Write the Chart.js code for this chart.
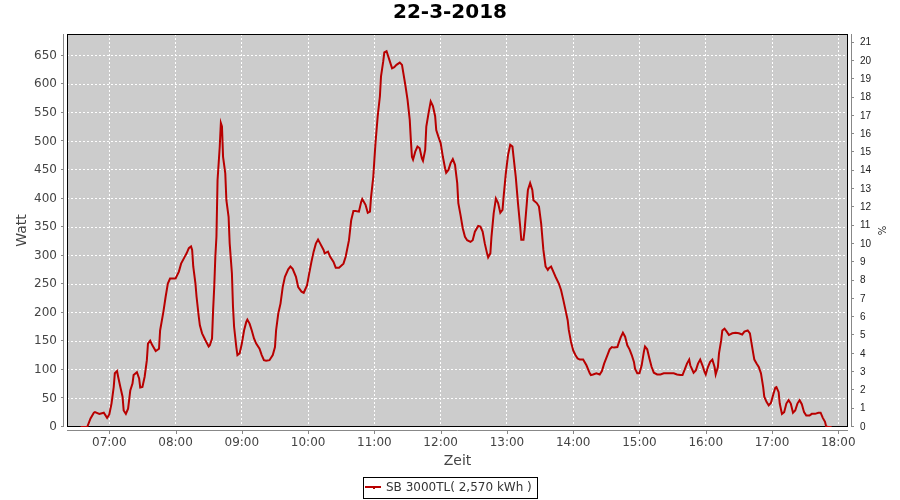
<!doctype html>
<html lang="de">
  <head>
    <meta charset="utf-8">
    <title>22-3-2018</title>
    <style>
      body { margin: 0; background: #fff; }
    </style>
  </head>
  <body>
    <canvas id="myChart" width="900" height="500"></canvas>

    <script src="https://cdn.jsdelivr.net/npm/chart.js"></script>
    <script>
        var chartTitle = '22-3-2018';
        var seriesLabel = 'SB 3000TL( 2,570 kWh )';
        var hourTicks = ['07:00','08:00','09:00','10:00','11:00','12:00','13:00','14:00','15:00','16:00','17:00','18:00'];

        // readings (time of day, watt)
        var times = [
            '06:34','06:40','06:43','06:46','06:47','06:51','06:55','06:58','07:00','07:02','07:04','07:05','07:07','07:08','07:10','07:12','07:13','07:15','07:17','07:19',
            '07:21','07:22','07:25','07:27','07:28','07:30','07:32','07:34','07:35','07:37','07:39','07:42','07:45','07:46','07:49','07:51','07:53','07:55','07:58','08:00',
            '08:03','08:05','08:08','08:10','08:12','08:14','08:15','08:16','08:18','08:19','08:21','08:22','08:24','08:27','08:30','08:31','08:33','08:34','08:35','08:36',
            '08:37','08:38','08:40','08:41','08:42','08:43','08:45','08:46','08:48','08:49','08:51','08:52','08:53','08:55','08:56','08:58','09:00','09:02','09:04','09:05',
            '09:07','09:09','09:11','09:13','09:16','09:18','09:20','09:22','09:25','09:28','09:30','09:31','09:33','09:35','09:37','09:39','09:42','09:44','09:46','09:49',
            '09:51','09:54','09:56','09:59','10:01','10:03','10:05','10:07','10:09','10:11','10:14','10:15','10:18','10:20','10:23','10:25','10:28',
            '10:32','10:34','10:37','10:39','10:41','10:43','10:46','10:48','10:49','10:52','10:54','10:56','10:57','10:59','11:00','11:01','11:03','11:05','11:06','11:08',
            '11:09','11:11','11:12','11:14','11:16','11:18','11:20','11:23','11:25','11:26','11:28','11:30','11:32','11:33','11:34','11:35','11:37','11:39','11:41','11:43',
            '11:44','11:46','11:47','11:49','11:51','11:53','11:55','11:56','11:58','12:00','12:02','12:04','12:05','12:07','12:09','12:11','12:13','12:15','12:16','12:18',
            '12:20','12:22','12:24','12:27','12:29','12:31','12:34','12:36','12:38','12:40','12:42','12:43','12:45','12:46','12:48','12:50','12:52','12:54','12:56','12:57',
            '12:59','13:01','13:03','13:05','13:06','13:08','13:10','13:12','13:13','13:15','13:16','13:18','13:19','13:21','13:23','13:24','13:27','13:29','13:31','13:33',
            '13:35','13:37','13:38','13:40','13:42','13:44','13:47','13:49','13:51','13:53','13:55','13:56','13:58','14:00','14:02','14:04','14:06','14:09','14:12','14:15',
            '14:16','14:18','14:21','14:24','14:26','14:28','14:31','14:33','14:35','14:37','14:40','14:41','14:43','14:45','14:47','14:49','14:51','14:53','14:55','14:56',
            '14:58','15:00','15:02','15:04','15:05','15:07','15:09','15:11','15:13','15:16','15:19','15:22','15:25','15:28','15:31','15:34','15:37','15:39','15:41','15:43',
            '15:45','15:46','15:49','15:51','15:53','15:55','15:57','15:59','16:00','16:02','16:04','16:06','16:08','16:09','16:11','16:12','16:14','16:15','16:17','16:19',
            '16:21','16:24','16:27','16:30','16:33','16:35','16:38','16:40','16:41','16:43','16:44','16:46','16:48','16:50','16:52','16:53','16:55','16:57','16:59','17:01',
            '17:03','17:04','17:06','17:07','17:09','17:11','17:13','17:15','17:17','17:19','17:21','17:23','17:25','17:27','17:29','17:31','17:34','17:36','17:39','17:42',
            '17:44','17:46','17:48','17:49','17:51','17:54'
        ];
        var watts = [
            0,0,15,25,26,23,25,16,22,41,70,94,98,88,70,53,29,23,32,64,
            76,91,96,85,69,70,88,117,146,151,143,133,137,169,202,228,251,260,260,260,
            272,286,297,304,313,316,310,281,251,228,193,178,164,152,141,143,155,205,245,298,
            333,432,491,532,526,473,444,397,368,321,269,210,175,140,126,129,146,169,184,188,
            181,169,155,146,137,126,117,116,117,126,140,169,199,216,245,263,276,281,277,263,
            245,237,235,248,269,289,307,321,328,321,310,304,307,298,289,279,279,
            286,298,327,362,378,378,377,394,399,389,375,377,403,438,468,497,544,579,614,640,
            656,658,652,640,628,630,634,638,634,622,599,573,538,503,473,468,482,491,488,470,
            466,485,526,549,570,562,544,520,508,497,473,453,445,450,462,469,459,427,392,371,
            348,333,327,324,327,342,352,351,342,321,304,297,304,333,374,400,392,375,380,403,
            444,476,494,491,473,438,392,351,328,328,345,392,415,427,415,397,392,386,356,310,
            281,275,278,281,272,263,251,240,223,205,187,170,149,134,126,120,118,118,108,94,
            91,92,94,92,98,111,126,136,140,139,140,146,157,165,158,143,136,126,114,102,
            94,94,108,132,141,136,120,105,95,92,92,94,94,94,94,92,91,91,101,111,
            118,108,95,99,111,118,108,96,92,105,114,118,105,92,105,129,152,169,172,167,
            161,164,165,164,162,167,169,164,152,129,118,111,105,94,70,53,44,38,42,56,
            69,70,61,41,23,26,41,47,41,25,29,41,47,40,26,20,20,23,23,25,
            25,16,9,1,0,0
        ];

        function toMin(t) {
            var p = t.split(':');
            return parseInt(p[0]) * 60 + parseInt(p[1]);
        }
        function toTime(v) {
            var h = Math.floor(v / 60), m = Math.round(v % 60);
            return (h < 10 ? '0' : '') + h + ':' + (m < 10 ? '0' : '') + m;
        }

        var points = times.map(function(t, i) { return {x: toMin(t), y: watts[i]}; });

        var plotFrame = {
            id: 'plotFrame',
            beforeDraw: function(chart) {
                var a = chart.chartArea, ctx = chart.ctx;
                ctx.save();
                ctx.fillStyle = '#cccccc';
                ctx.fillRect(a.left, a.top, a.right - a.left, a.bottom - a.top);
                ctx.restore();
            },
            beforeDatasetsDraw: function(chart) {
                var a = chart.chartArea, ctx = chart.ctx;
                ctx.save();
                ctx.strokeStyle = '#000';
                ctx.lineWidth = 1;
                ctx.strokeRect(a.left + 0.5, a.top + 0.5, a.right - a.left - 1, a.bottom - a.top - 1);
                ctx.restore();
            },
            afterDraw: function(chart) {
                var a = chart.chartArea, ctx = chart.ctx;
                var sx = chart.scales.x, sy = chart.scales.y, sy1 = chart.scales.y1;
                ctx.save();
                ctx.strokeStyle = '#888';
                ctx.lineWidth = 1;
                ctx.beginPath();
                // left axis
                ctx.moveTo(a.left - 3.5, a.top); ctx.lineTo(a.left - 3.5, a.bottom);
                sy.ticks.forEach(function(t) {
                    var y = Math.round(sy.getPixelForValue(t.value)) - 0.5;
                    ctx.moveTo(a.left - 6, y); ctx.lineTo(a.left - 3.5, y);
                });
                // right axis
                ctx.moveTo(a.right + 3.5, a.top); ctx.lineTo(a.right + 3.5, a.bottom);
                sy1.ticks.forEach(function(t) {
                    var y = Math.round(sy1.getPixelForValue(t.value)) - 0.5;
                    ctx.moveTo(a.right + 3.5, y); ctx.lineTo(a.right + 6, y);
                });
                // bottom axis
                ctx.moveTo(a.left, a.bottom + 3.5); ctx.lineTo(a.right, a.bottom + 3.5);
                sx.ticks.forEach(function(t) {
                    var x = Math.round(sx.getPixelForValue(t.value)) + 0.5;
                    ctx.moveTo(x, a.bottom + 3.5); ctx.lineTo(x, a.bottom + 7);
                });
                ctx.stroke();

                // legend box
                var ds = chart.data.datasets[0];
                ctx.font = '12px "DejaVu Sans"';
                var tw = ctx.measureText(ds.label).width;
                var bw = tw + 28, bx = Math.round(450 - bw / 2), by = 477;
                ctx.strokeStyle = '#000';
                ctx.strokeRect(bx + 0.5, by + 0.5, Math.round(bw), 21);
                ctx.strokeStyle = ds.borderColor;
                ctx.lineWidth = 2;
                ctx.beginPath();
                ctx.moveTo(bx + 2, by + 10); ctx.lineTo(bx + 18, by + 10);
                ctx.stroke();
                ctx.fillStyle = ds.borderColor;
                ctx.fillRect(bx + 10, by + 10, 2, 2);
                ctx.fillStyle = '#333';
                ctx.textBaseline = 'middle';
                ctx.fillText(ds.label, bx + 23, by + 11);
                ctx.restore();
            }
        };

        var axisFont = {family: 'DejaVu Sans', size: 12};
        var ctx = document.getElementById('myChart');
        new Chart(ctx, {
            type: 'line',
            data: {
                datasets: [{
                    label: seriesLabel,
                    data: points,
                    borderColor: '#b80000',
                    borderWidth: 2,
                    pointRadius: 0,
                    tension: 0,
                    fill: false,
                    yAxisID: 'y'
                }]
            },
            options: {
                responsive: false,
                animation: false,
                layout: {padding: {bottom: 28}},
                plugins: {
                    legend: {display: false},
                    tooltip: {enabled: false},
                    title: {
                        display: true,
                        text: chartTitle,
                        color: '#000',
                        font: {family: 'DejaVu Sans', size: 20, weight: 'bold'},
                        padding: {top: 1, bottom: 9}
                    }
                },
                scales: {
                    x: {
                        type: 'linear',
                        min: 381.7,
                        max: 1088.8,
                        afterBuildTicks: function(axis) {
                            axis.ticks = hourTicks.map(function(t) { return {value: toMin(t)}; });
                        },
                        afterFit: function(axis) { axis.height = 45; },
                        ticks: {
                            callback: function(v) { return toTime(v); },
                            font: axisFont,
                            color: '#444',
                            padding: 9,
                            maxRotation: 0,
                            autoSkip: false
                        },
                        grid: {color: '#ffffff', drawTicks: false},
                        border: {display: false, dash: [2, 2]},
                        title: {
                            display: true,
                            text: 'Zeit',
                            color: '#444',
                            font: {family: 'DejaVu Sans', size: 14},
                            padding: {top: 0, bottom: 2}
                        }
                    },
                    y: {
                        position: 'left',
                        min: 0,
                        max: 688,
                        afterFit: function(axis) { axis.width = 67; },
                        ticks: {stepSize: 50, includeBounds: false, font: axisFont, color: '#444', padding: 10},
                        grid: {color: '#ffffff', drawTicks: false},
                        border: {display: false, dash: [2, 2]},
                        title: {
                            display: true,
                            text: 'Watt',
                            color: '#444',
                            font: {family: 'DejaVu Sans', size: 14},
                            padding: {top: 14, bottom: 0}
                        }
                    },
                    y1: {
                        position: 'right',
                        min: 0,
                        max: 21.47,
                        afterFit: function(axis) { axis.width = 52; },
                        ticks: {stepSize: 1, includeBounds: false, font: {family: 'Liberation Sans', size: 10}, color: '#222', padding: 12},
                        grid: {display: false, drawTicks: false},
                        border: {display: false},
                        title: {
                            display: true,
                            text: '%',
                            color: '#222',
                            font: {family: 'DejaVu Sans', size: 10},
                            padding: {top: 13, bottom: 0}
                        }
                    }
                }
            },
            plugins: [plotFrame]
        });
    </script>
  </body>
</html>
